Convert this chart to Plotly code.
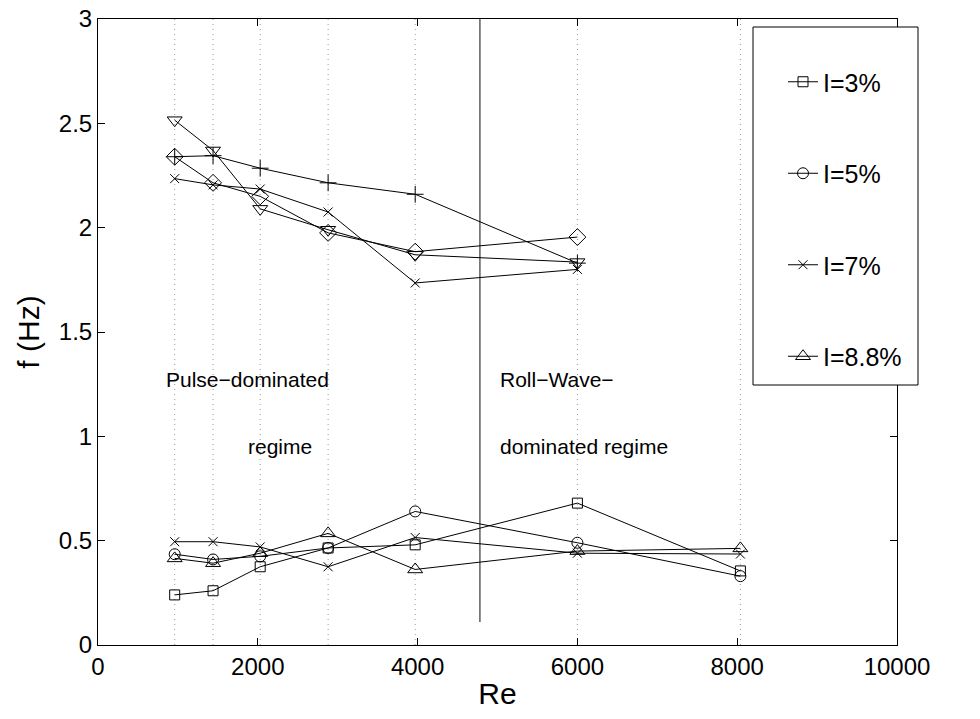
import plotly.graph_objects as go

# ---- data ----
re_vals = [960, 1440, 2030, 2880, 3970, 6000, 8040]

# lower-frequency branch (legend series)
f_i3 = [0.24, 0.26, 0.375, 0.465, 0.48, 0.68, 0.355]
f_i5 = [0.435, 0.41, 0.425, 0.465, 0.64, 0.49, 0.33]
f_i7 = [0.495, 0.495, 0.47, 0.375, 0.515, 0.44, 0.436]
f_i88 = [0.415, 0.392, 0.44, 0.535, 0.362, 0.45, 0.463]

# upper-frequency branch (no legend entries)
re_upper = [960, 1440, 2030, 2880, 3970, 6000]
f_plus = [2.34, 2.345, 2.285, 2.215, 2.16, 1.83]
f_diamond = [2.34, 2.215, 2.15, 1.975, 1.885, 1.955]
f_tridown = [2.515, 2.37, 2.09, 1.99, 1.87, 1.835]
f_cross = [2.235, 2.205, 2.185, 2.075, 1.735, 1.80]

legend_names = ["I=3%", "I=5%", "I=7%", "I=8.8%"]

boundary_re = 4780
boundary_f = [0.11, 3.0]

x_range = [0, 10000]
y_range = [0, 3]
x_ticks = [0, 2000, 4000, 6000, 8000, 10000]
x_ticklabels = ["0", "2000", "4000", "6000", "8000", "10000"]
y_ticks = [0, 0.5, 1, 1.5, 2, 2.5, 3]
y_ticklabels = ["0", "0.5", "1", "1.5", "2", "2.5", "3"]

region_text = [
    ("Pulse\u2212dominated", 830, 1.27),
    ("regime", 1846, 0.95),
    ("Roll\u2212Wave\u2212", 5000, 1.27),
    ("dominated regime", 5000, 0.95),
]

FONT = "Liberation Sans, Arial, Helvetica, sans-serif"

fig = go.Figure()

# dotted vertical guide lines at each measured Re
gx, gy = [], []
for r in re_vals:
    gx += [r, r, None]
    gy += [y_range[0], y_range[1], None]
fig.add_trace(go.Scatter(x=gx, y=gy, mode="lines",
                         line=dict(color="#9a9a9a", width=1, dash="1px,4px"),
                         showlegend=False, hoverinfo="skip"))

# regime boundary
fig.add_trace(go.Scatter(x=[boundary_re, boundary_re], y=boundary_f, mode="lines",
                         line=dict(color="#444444", width=1.3),
                         showlegend=False, hoverinfo="skip"))

line_style = dict(color="black", width=1)

upper = [
    (f_plus, "cross-thin-open", 12),
    (f_diamond, "diamond-open", 13),
    (f_tridown, "triangle-down-open", 13),
    (f_cross, "x-thin-open", 9),
]
for ys, sym, sz in upper:
    fig.add_trace(go.Scatter(x=re_upper, y=ys, mode="lines+markers",
                             line=line_style,
                             marker=dict(symbol=sym, size=sz, color="black",
                                         line=dict(width=1, color="black")),
                             showlegend=False))

lower = [
    (f_i3, "square-open", 10),
    (f_i5, "circle-open", 11),
    (f_i7, "x-thin-open", 9),
    (f_i88, "triangle-up-open", 13),
]
for i, (ys, sym, sz) in enumerate(lower):
    fig.add_trace(go.Scatter(x=re_vals, y=ys, mode="lines+markers",
                             name=legend_names[i], legendgroup=f"g{i}",
                             line=line_style,
                             marker=dict(symbol=sym, size=sz, color="black",
                                         line=dict(width=1, color="black"))))

for txt, xv, yv in region_text:
    fig.add_annotation(x=xv, y=yv, text=txt, showarrow=False, xanchor="left",
                       yanchor="middle", font=dict(size=21, color="black", family=FONT))

W, H = 980, 719
ml, mr, mt, mb = 98, 83, 19, 74
pw, ph = W - ml - mr, H - mt - mb

def px_x(p):
    return (p - ml) / pw

def px_y(p):
    return (H - mb - p) / ph

# legend frame
fig.add_shape(type="rect", xref="paper", yref="paper",
              x0=px_x(753), x1=px_x(918), y0=px_y(385), y1=px_y(27),
              fillcolor="white", line=dict(color="black", width=1), layer="above")

axis_common = dict(showgrid=False, zeroline=False, showline=True, linecolor="black",
                   linewidth=1, mirror="ticks", ticks="inside", ticklen=7,
                   tickcolor="black", tickwidth=1, automargin=False,
                   tickfont=dict(size=24, color="black", family=FONT))

fig.update_layout(
    width=W, height=H,
    margin=dict(l=ml, r=mr, t=mt, b=mb),
    paper_bgcolor="white", plot_bgcolor="white",
    font=dict(family=FONT, color="black"),
    xaxis=dict(range=x_range, tickvals=x_ticks, ticktext=x_ticklabels,
               title=dict(text="Re", font=dict(size=30), standoff=4),
               **axis_common),
    yaxis=dict(range=y_range, tickvals=y_ticks, ticktext=y_ticklabels,
               title=dict(text="f (Hz)", font=dict(size=30), standoff=10),
               **axis_common),
    legend=dict(x=px_x(783), y=px_y(59), xanchor="left", yanchor="top",
                bgcolor="rgba(0,0,0,0)", borderwidth=0,
                font=dict(size=25, color="black", family=FONT),
                tracegroupgap=56, traceorder="grouped", itemsizing="trace"),
    showlegend=True,
)

fig.write_html("out.html")
